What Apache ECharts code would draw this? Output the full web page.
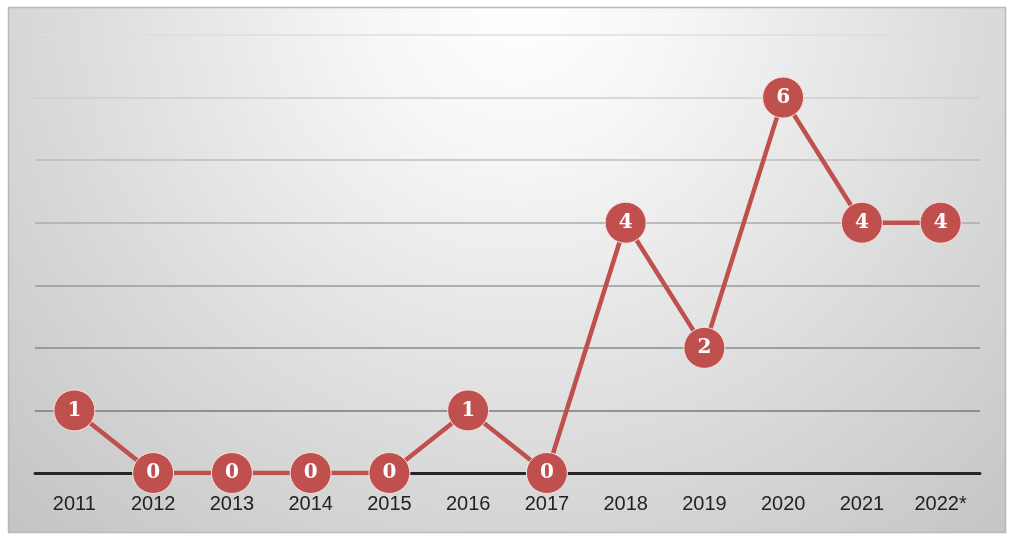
<!DOCTYPE html>
<html>
<head>
<meta charset="utf-8">
<script src="https://cdn.jsdelivr.net/npm/echarts@6/dist/echarts.min.js"></script>
<style>
html,body{margin:0;padding:0;background:#fff;}
#c{width:1013px;height:539px;}
</style>
</head>
<body>
<div id="c"></div>
<script>
const categories = ['2011','2012','2013','2014','2015','2016','2017','2018','2019','2020','2021','2022*'];
const values = [1,0,0,0,0,1,0,4,2,6,4,4];
const yTicks = [0,1,2,3,4,5,6,7];

const chart = echarts.init(document.getElementById('c'), null, {renderer:'canvas'});
chart.setOption({
  animation:false,
  graphic:[{
    type:'rect', silent:true, z:-10,
    shape:{x:8.5,y:7.5,width:997,height:525},
    style:{
      fill:{type:'radial',x:520,y:0,r:780,global:true,
        colorStops:[{offset:0,color:'#ffffff'},{offset:0.2,color:'#f6f6f6'},{offset:0.6,color:'#dadada'},{offset:1,color:'#c0c0c0'}]},
      stroke:'#b8b8b8', lineWidth:1.5
    }
  }],
  grid:{left:35,right:33,top:35,bottom:66},
  xAxis:{
    type:'category', data:categories, boundaryGap:true,
    axisLine:{lineStyle:{color:'#262626',width:3}},
    axisTick:{show:false},
    axisLabel:{color:'#222',fontFamily:'Liberation Sans, Arial',fontSize:20,margin:21}
  },
  yAxis:{
    type:'value', min:yTicks[0], max:yTicks[yTicks.length-1], interval:1,
    axisLine:{show:false}, axisTick:{show:false}, axisLabel:{show:false},
    splitLine:{lineStyle:{width:1.5,color:['#333','#7a7a7a','#8a8a8a','#9a9a9a','#ababab','#bcbcbc','#cecece','#dedede']}}
  },
  series:[{
    type:'line', data:values,
    symbol:'circle', symbolSize:41,
    lineStyle:{color:'#c0504d',width:4.5},
    itemStyle:{color:'#c0504d',borderColor:'#f4e0e0',borderWidth:1},
    label:{show:true,position:'inside',color:'#fff',fontFamily:'DejaVu Serif, Liberation Serif, serif',fontWeight:'bold',fontSize:20},
    z:3
  }]
});
</script>
</body>
</html>
